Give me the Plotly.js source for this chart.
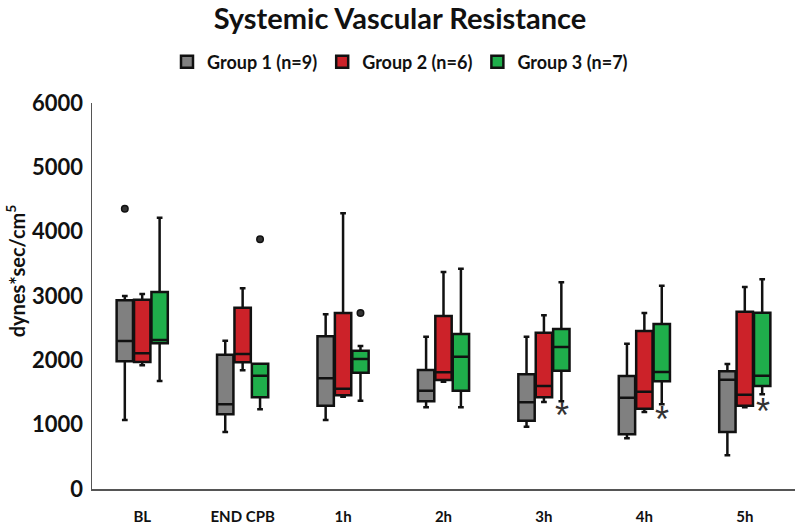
<!DOCTYPE html>
<html>
<head>
<meta charset="utf-8">
<script src="https://cdn.plot.ly/plotly-3.0.1.min.js"></script>
<style>html,body{margin:0;padding:0;background:#fff;}#chart{width:800px;height:526px;}</style>
</head>
<body>
<div id="chart"></div>
<script>
const categories = ['BL', 'END CPB', '1h', '2h', '3h', '4h', '5h'];
const groupNames = ['Group 1 (n=9)', 'Group 2 (n=6)', 'Group 3 (n=7)'];
const groupColors = ['#808080', '#cc2229', '#1fae4b'];

// Group 1
const g1Low    = [1073,  886, 1073, 1270,  969,  788,  524];
const g1Q1     = [1985, 1161, 1295, 1363, 1062,  850,  886];
const g1Median = [2300, 1316, 1720, 1529, 1347, 1420, 1700];
const g1Q3     = [2933, 2088, 2373, 1850, 1783, 1757, 1829];
const g1High   = [3000, 2306, 2715, 2368, 2368, 2259, 1943];

// Group 2
const g2Low    = [1922, 1845, 1435, 1668, 1352, 1197, 1270];
const g2Q1     = [1974, 1969, 1456, 1694, 1425, 1249, 1295];
const g2Median = [2109, 2098, 1560, 1814, 1601, 1513, 1466];
const g2Q3     = [2943, 2819, 2736, 2689, 2430, 2456, 2756];
const g2High   = [3031, 3119, 4285, 3373, 2700, 2736, 3140];

// Group 3
const g3Low    = [1679, 1239, 1373, 1270, 1363, 1316, 1472];
const g3Q1     = [2264, 1425, 1808, 1529, 1839, 1674, 1601];
const g3Median = [2316, 1762, 2021, 2057, 2207, 1819, 1762];
const g3Q3     = [3062, 1948, 2150, 2409, 2487, 2565, 2741];
const g3High   = [4218, 1948, 2223, 3425, 3213, 3161, 3260];

// outliers: category, group index (0..2), value
const outlierCategory = ['BL', 'END CPB', '1h'];
const outlierGroup    = [0, 2, 2];
const outlierValue    = [4357, 3881, 2736];

// significance markers (category, y position)
const starCategories = ['3h', '4h', '5h'];
const starY = [1150, 1088, 1212];

const yTicks = [0, 1000, 2000, 3000, 4000, 5000, 6000];
const yTitle = '<b>dynes*sec/cm<sup>5</sup></b>';

const BOXGAP = 0.48;
const BOXGROUPGAP = 0.06;

const groups = [
  [g1Low, g1Q1, g1Median, g1Q3, g1High],
  [g2Low, g2Q1, g2Median, g2Q3, g2High],
  [g3Low, g3Q1, g3Median, g3Q3, g3High]
];

const traces = groups.map((g, i) => ({
  type: 'box',
  name: groupNames[i],
  x: categories,
  lowerfence: g[0],
  q1: g[1],
  median: g[2],
  q3: g[3],
  upperfence: g[4],
  boxpoints: false,
  fillcolor: groupColors[i],
  line: {color: '#111', width: 2.5},
  whiskerwidth: 0.35,
  hoverinfo: 'skip'
}));

// outlier dots on an overlaid numeric axis aligned with the category axis
const slot = (1 - BOXGAP) / groups.length;
traces.push({
  type: 'scatter', mode: 'markers',
  x: outlierCategory.map((c, i) => categories.indexOf(c) + (outlierGroup[i] - 1) * slot),
  y: outlierValue,
  xaxis: 'x2', yaxis: 'y',
  showlegend: false,
  marker: {color: '#333', size: 6.5, line: {color: '#111', width: 1.5}},
  hoverinfo: 'skip'
});

const font = 'Lato, Open Sans, sans-serif';

const annotations = starCategories.map((c, i) => ({
  x: c, y: starY[i], xref: 'x', yref: 'y',
  text: '*', showarrow: false, xshift: 18,
  font: {family: 'Liberation Sans, sans-serif', size: 36, color: '#333'},
  yanchor: 'middle'
}));

annotations.push({
  xref: 'paper', yref: 'paper',
  x: -0.109, y: 0.565,
  xanchor: 'center', yanchor: 'middle',
  text: yTitle, textangle: -90, showarrow: false,
  font: {family: font, size: 20, color: '#111'}
});

const layout = {
  width: 800, height: 526,
  margin: {l: 92, r: 5, t: 103, b: 37},
  paper_bgcolor: '#fff', plot_bgcolor: '#fff',
  boxmode: 'group',
  boxgap: BOXGAP,
  boxgroupgap: BOXGROUPGAP,
  title: {
    text: '<b>Systemic Vascular Resistance</b>',
    font: {family: font, size: 29, color: '#111'},
    x: 0.5, xanchor: 'center', xref: 'container',
    y: 1 - 19/526, yanchor: 'middle', yref: 'container'
  },
  showlegend: true,
  legend: {
    orientation: 'h',
    xref: 'container', yref: 'container',
    x: 0.5, xanchor: 'center',
    y: 1 - 62/526, yanchor: 'middle',
    font: {family: font, size: 18, color: '#111', weight: 'bold'},
    itemwidth: 30,
    tracegroupgap: 0
  },
  xaxis: {
    type: 'category',
    categoryarray: categories,
    range: [-0.5, categories.length - 0.5],
    showline: true, linecolor: '#555', linewidth: 1.5,
    ticks: '', showgrid: false, zeroline: false,
    tickfont: {family: font, size: 15, color: '#111', weight: 'bold'},
    ticklabelstandoff: 13
  },
  xaxis2: {
    overlaying: 'x',
    range: [-0.5, categories.length - 0.5],
    visible: false, showgrid: false, zeroline: false
  },
  yaxis: {
    range: [0, 6000],
    tickvals: yTicks,
    ticktext: yTicks.map(String),
    showline: true, linecolor: '#555', linewidth: 1.5,
    ticks: '', showgrid: false, zeroline: false,
    tickfont: {family: font, size: 22, color: '#111', weight: 'bold'},
    ticklabelstandoff: 3
  },
  annotations: annotations
};

Plotly.newPlot('chart', traces, layout, {displayModeBar: false, staticPlot: true});
</script>
</body>
</html>
